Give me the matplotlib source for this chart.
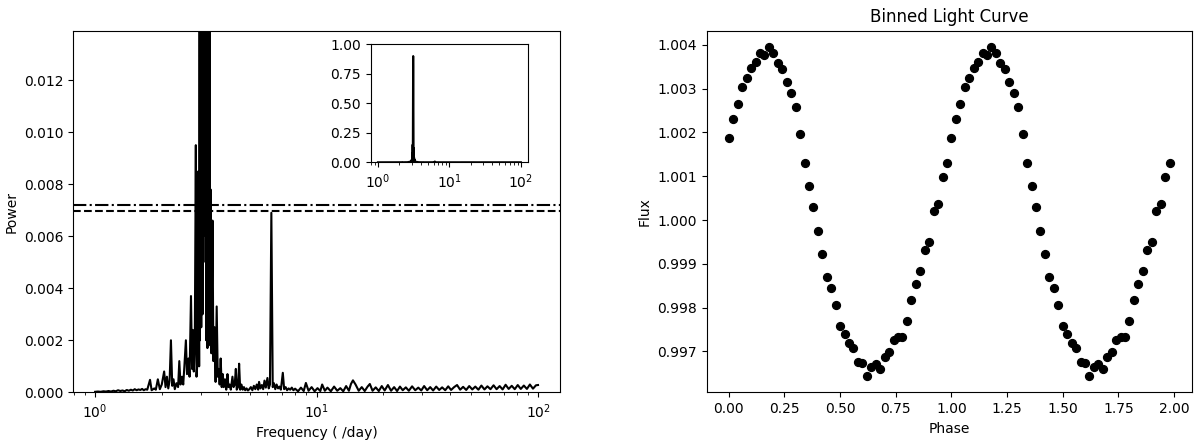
import matplotlib
matplotlib.use('Agg')
import matplotlib.pyplot as plt
import numpy as np

# periodogram in pieces
low_freq = [1.00, 1.03, 1.06, 1.09, 1.12, 1.15, 1.18, 1.21, 1.24, 1.27, 1.30, 1.33,
            1.36, 1.39, 1.42, 1.45, 1.48, 1.51, 1.54, 1.57, 1.60, 1.63, 1.66, 1.69]
low_power = [0.00002, 0.00003, 0.00002, 0.00004, 0.00003, 0.00005, 0.00003, 0.00006,
             0.00004, 0.00008, 0.00005, 0.00007, 0.00004, 0.00009, 0.00006, 0.00010,
             0.00007, 0.00012, 0.00008, 0.00011, 0.00009, 0.00013, 0.00008, 0.00012]

rise_freq = [1.72, 1.77, 1.80, 1.85, 1.88, 1.92, 1.96, 2.00, 2.03, 2.05, 2.08, 2.11,
             2.14, 2.17, 2.20, 2.23, 2.26, 2.29, 2.33, 2.37, 2.40, 2.43, 2.47, 2.50,
             2.53, 2.57, 2.60, 2.64, 2.67, 2.71, 2.74, 2.76, 2.79, 2.82, 2.85, 2.87,
             2.90, 2.93, 2.95]
rise_power = [0.00010, 0.00048, 0.00008, 0.00015, 0.00010, 0.00050, 0.00012, 0.00030,
              0.00060, 0.00080, 0.00020, 0.00060, 0.00015, 0.00045, 0.00200, 0.00025,
              0.00050, 0.00012, 0.00035, 0.00020, 0.00120, 0.00030, 0.00060, 0.00030,
              0.00100, 0.00200, 0.00070, 0.00130, 0.00060, 0.00370, 0.00090, 0.00240,
              0.00080, 0.00200, 0.00950, 0.00060, 0.00120, 0.00850, 0.00100]

peak_freq = [2.965, 2.975, 2.985, 2.995, 3.005, 3.015, 3.025, 3.035, 3.045, 3.055,
             3.065, 3.075, 3.085, 3.095, 3.105, 3.115, 3.125, 3.135, 3.145, 3.155,
             3.165, 3.175, 3.185, 3.195, 3.205, 3.215, 3.225, 3.235, 3.245, 3.255,
             3.265, 3.275, 3.285, 3.295]
peak_power = [0.0180, 0.0020, 0.0250, 0.0030, 0.0350, 0.0025, 0.0500, 0.0040,
              0.0800, 0.0030, 0.1500, 0.0060, 0.3500, 0.6500, 0.8500, 0.9000,
              0.8200, 0.6000, 0.3000, 0.0050, 0.1200, 0.0020, 0.0600, 0.0030,
              0.0400, 0.0017, 0.0280, 0.0025, 0.0200, 0.0018, 0.0160, 0.0030,
              0.0150, 0.0020]

fall_freq = [3.32, 3.35, 3.39, 3.42, 3.46, 3.50, 3.54, 3.58, 3.62, 3.65, 3.69, 3.73,
             3.77, 3.81, 3.86, 3.91, 3.96, 4.00, 4.05, 4.10, 4.17, 4.22, 4.27, 4.32,
             4.36, 4.42, 4.47, 4.52, 4.58, 4.64, 4.70, 4.76, 4.83, 4.90, 4.97]
fall_power = [0.0078, 0.0015, 0.0066, 0.0012, 0.0025, 0.0004, 0.0033, 0.0006,
              0.0009, 0.0003, 0.0013, 0.0002, 0.0007, 0.0002, 0.0005, 0.0001,
              0.0007, 0.0002, 0.0003, 0.0001, 0.0006, 0.0002, 0.0003, 0.0009,
              0.0001, 0.0002, 0.0011, 0.0001, 0.0003, 0.0001, 0.0002, 0.00008,
              0.00015, 0.00007, 0.00012]

harm_freq = [5.05, 5.13, 5.21, 5.29, 5.37, 5.45, 5.50, 5.58, 5.66, 5.74, 5.82, 5.90,
             6.00, 6.08, 6.16, 6.25, 6.34, 6.42, 6.51, 6.60, 6.70, 6.80, 6.90, 7.04,
             7.14, 7.25, 7.36, 7.48, 7.60, 7.73, 7.86]
harm_power = [0.00020, 0.00008, 0.00025, 0.00012, 0.00030, 0.00010, 0.00040, 0.00015,
              0.00028, 0.00012, 0.00045, 0.00018, 0.00055, 0.00015, 0.00030, 0.00690,
              0.00020, 0.00035, 0.00012, 0.00030, 0.00015, 0.00022, 0.00010, 0.00075,
              0.00012, 0.00020, 0.00008, 0.00015, 0.00010, 0.00018, 0.00008]

high_freq = [8.0, 8.25, 8.5, 8.75, 8.95, 9.2, 9.5, 9.8, 10.1, 10.4, 10.6, 10.9,
             11.2, 11.6, 12.0, 12.4, 12.8, 13.2, 13.6, 14.0, 14.3, 14.6, 15.0, 15.5,
             16.0, 16.5, 17.0, 17.4, 17.9, 18.5, 19.1, 19.7, 20.3, 21.0, 21.7, 22.4,
             23.1, 23.8, 24.5, 25.3, 26.1, 27.0, 27.9, 28.8, 29.7, 30.6, 31.6, 32.6,
             33.6, 34.7, 35.8, 36.9, 38.1, 39.3, 40.5, 41.8, 43.1, 44.5, 45.9, 47.4,
             48.9, 50.5, 52.1, 53.8, 55.5, 57.3, 59.1, 61.0, 63.0, 65.0, 67.1, 69.2,
             71.4, 73.7, 76.1, 78.5, 81.0, 83.6, 86.3, 89.1, 91.9, 94.9, 97.9, 100.0]
high_power = [0.00014, 0.00004, 0.00018, 0.00005, 0.00036, 0.00006, 0.00020, 0.00004,
              0.00016, 0.00005, 0.00030, 0.00006, 0.00018, 0.00004, 0.00022, 0.00006,
              0.00016, 0.00004, 0.00024, 0.00006, 0.00032, 0.00046, 0.00030, 0.00006,
              0.00020, 0.00005, 0.00022, 0.00032, 0.00006, 0.00019, 0.00005, 0.00024,
              0.00007, 0.00028, 0.00006, 0.00020, 0.00005, 0.00022, 0.00008, 0.00019,
              0.00006, 0.00023, 0.00008, 0.00018, 0.00007, 0.00024, 0.00008, 0.00020,
              0.00007, 0.00022, 0.00009, 0.00019, 0.00008, 0.00023, 0.00009, 0.00020,
              0.00028, 0.00010, 0.00021, 0.00009, 0.00024, 0.00011, 0.00022, 0.00010,
              0.00026, 0.00011, 0.00023, 0.00012, 0.00027, 0.00012, 0.00024, 0.00011,
              0.00029, 0.00013, 0.00025, 0.00012, 0.00028, 0.00013, 0.00026, 0.00013,
              0.00030, 0.00014, 0.00027, 0.00028]

threshold_dashdot = 0.00719
threshold_dashed = 0.00696

# binned light curve, one cycle (plotted twice)
phase = [0.00, 0.02, 0.04, 0.06, 0.08, 0.10, 0.12, 0.14, 0.16, 0.18,
         0.20, 0.22, 0.24, 0.26, 0.28, 0.30, 0.32, 0.34, 0.36, 0.38,
         0.40, 0.42, 0.44, 0.46, 0.48, 0.50, 0.52, 0.54, 0.56, 0.58,
         0.60, 0.62, 0.64, 0.66, 0.68, 0.70, 0.72, 0.74, 0.76, 0.78,
         0.80, 0.82, 0.84, 0.86, 0.88, 0.90, 0.92, 0.94, 0.96, 0.98]
flux = [1.00187, 1.00230, 1.00264, 1.00305, 1.00325, 1.00348, 1.00360, 1.00381, 1.00378, 1.00395,
        1.00381, 1.00359, 1.00346, 1.00315, 1.00290, 1.00259, 1.00196, 1.00130, 1.00078, 1.00029,
        0.99975, 0.99923, 0.99870, 0.99844, 0.99807, 0.99759, 0.99740, 0.99718, 0.99707, 0.99675,
        0.99674, 0.99644, 0.99664, 0.99672, 0.99660, 0.99687, 0.99698, 0.99727, 0.99733, 0.99733,
        0.99769, 0.99818, 0.99854, 0.99883, 0.99931, 0.99950, 1.00020, 1.00036, 1.00098, 1.00130]

freq = np.concatenate([low_freq, rise_freq, peak_freq, fall_freq, harm_freq, high_freq])
power = np.concatenate([low_power, rise_power, peak_power, fall_power, harm_power, high_power])

fig = plt.figure(figsize=(12, 4.45), dpi=100)

ax1 = fig.add_axes([0.0608, 0.1184, 0.406, 0.8126])
ax1.plot(freq, power, 'k')
ax1.axhline(threshold_dashdot, color='k', linestyle='-.')
ax1.axhline(threshold_dashed, color='k', linestyle='--')
ax1.set_xscale('log')
ax1.set_ylim(0, 0.0139)
ax1.set_xlabel('Frequency ( /day)')
ax1.set_ylabel('Power')

inset = fig.add_axes([0.309, 0.6353, 0.131, 0.2652])
inset.plot(freq, power, 'k')
inset.set_xscale('log')
inset.set_ylim(0, 1)
inset.set_yticks([0, 0.25, 0.5, 0.75, 1.0])

ax2 = fig.add_axes([0.589, 0.1184, 0.404, 0.8126])
two_phase = np.concatenate([phase, np.array(phase) + 1])
two_flux = np.concatenate([flux, flux])
ax2.scatter(two_phase, two_flux, color='k', s=32)
ax2.ticklabel_format(axis='y', useOffset=False)
ax2.set_title('Binned Light Curve')
ax2.set_xlabel('Phase')
ax2.set_ylabel('Flux')

plt.savefig('out.png', dpi=100)
